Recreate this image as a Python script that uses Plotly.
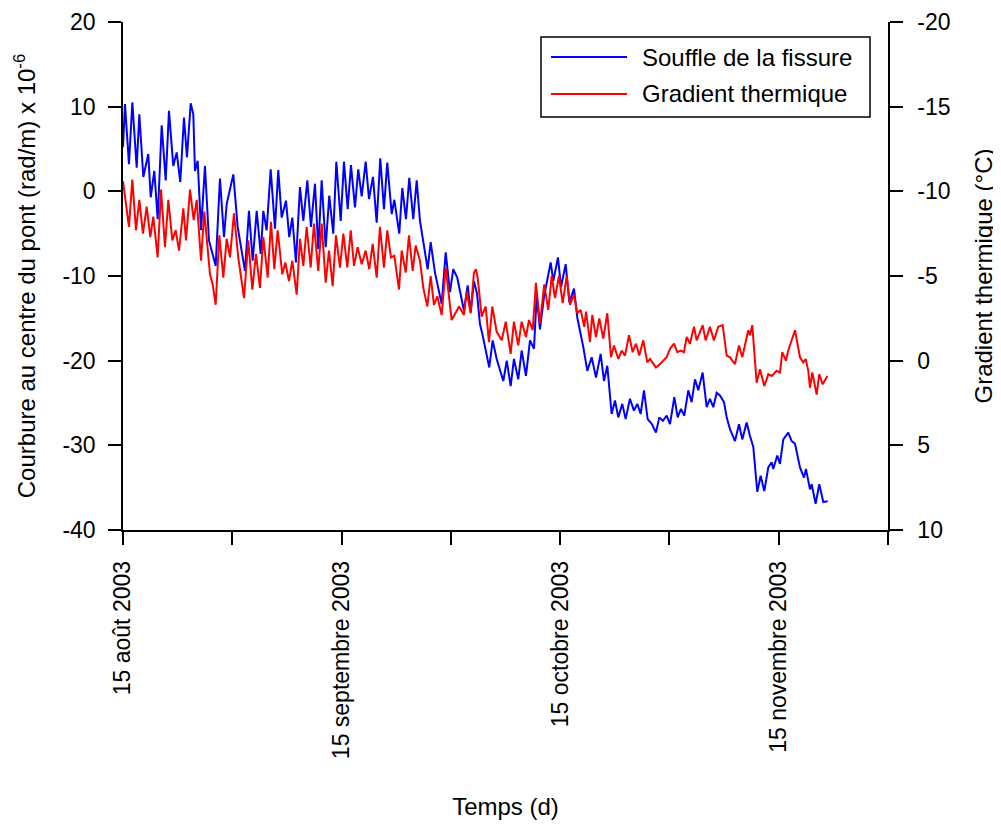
import plotly.graph_objects as go

# Days since 15 August 2003
blue_days = [0.0, 0.27, 0.82, 1.28, 1.88, 2.24, 2.79, 3.47, 3.80, 4.30, 4.76, 5.31, 5.86, 6.31, 6.90, 7.37, 7.86, 8.37, 8.78, 9.29,
             9.65, 9.88, 10.25, 10.71, 11.25, 11.80, 12.72, 13.31, 13.86, 14.23, 15.14, 15.74, 16.74, 17.29, 17.80, 18.35, 18.90, 19.26, 19.72, 20.27,
             20.86, 21.31, 21.78, 22.37, 22.82, 23.24, 23.74, 24.29, 24.75, 25.30, 25.80, 26.35, 26.80, 27.27, 27.82, 28.31, 28.86, 29.28, 29.88, 30.33,
             30.84, 31.29, 31.84, 32.29, 32.76, 33.31, 33.76, 34.31, 34.82, 35.31, 35.82, 36.27, 36.88, 37.24, 37.92, 38.33, 38.84, 39.29, 39.84, 40.31,
             40.76, 41.22, 41.82, 42.23, 42.82, 43.74, 44.29, 44.88, 45.33, 45.88, 46.80, 47.31, 47.72, 48.17, 48.59, 49.00, 49.31, 50.27, 50.74, 51.29,
             52.20, 52.67, 53.21, 53.66, 54.25, 54.72, 55.31, 55.86, 56.41, 56.78, 57.23, 57.78, 58.70, 59.06, 59.70, 60.12, 60.76, 61.26, 61.90, 62.35,
             63.18, 63.73, 64.33, 64.92, 65.56, 66.02, 66.47, 67.07, 67.53, 67.98, 68.53, 68.99, 69.58, 70.13, 70.59, 71.05, 71.51, 72.01, 72.60, 73.15,
             73.61, 74.11, 74.62, 75.08, 75.67, 76.13, 76.58, 77.04, 77.59, 78.05, 78.51, 78.96, 79.56, 80.11, 80.56, 81.02, 81.49, 81.94, 82.49, 82.86,
             83.31, 84.00, 84.55, 85.00, 85.60, 86.06, 86.51, 87.06, 87.52, 88.02, 88.57, 89.03, 89.25, 89.80, 90.17, 90.63, 91.31, 91.78, 92.23, 92.92,
             93.47, 93.74, 94.29, 94.52, 95.07, 95.57, 96.12, 96.72]
blue_vals = [5.2, 10.3, 3.2, 10.5, 2.8, 9.1, 1.7, 4.4, -0.7, 2.4, -3.3, 7.8, 1.3, 9.5, 3.0, 4.6, 1.1, 8.7, 4.0, 10.4,
             9.1, 2.4, 3.6, -4.6, 3.0, -5.8, -8.8, 1.5, -5.4, -1.5, 2.0, -4.2, -9.4, -2.3, -8.2, -2.3, -7.4, -2.3, -4.6, 2.6,
             -4.4, 2.5, -3.1, -1.1, -5.4, -3.1, -8.4, 0.5, -3.5, 1.3, -4.2, 0.9, -6.8, 1.3, -6.6, -0.5, -5.0, 3.5, -3.5, 3.5,
             -2.1, 3.1, -1.9, 2.6, -0.6, 3.5, -0.9, 1.7, -3.7, 3.9, -2.1, 3.4, -2.7, -1.0, -5.0, 0.4, -3.3, 1.6, -3.3, 1.3,
             -3.5, -5.8, -9.2, -6.0, -9.6, -13.3, -7.2, -11.9, -9.2, -10.2, -14.1, -11.1, -14.3, -10.6, -12.1, -15.7, -16.8, -20.8, -17.6, -19.8,
             -22.4, -20.0, -23.0, -19.8, -22.2, -18.8, -21.8, -17.6, -18.6, -12.3, -16.3, -12.5, -8.4, -10.6, -7.8, -11.3, -8.6, -13.1, -11.5, -14.9,
             -18.4, -21.2, -19.6, -22.0, -19.2, -22.4, -20.6, -26.3, -24.7, -26.7, -25.1, -26.9, -24.5, -25.9, -25.1, -26.3, -23.5, -26.9, -27.5, -28.5,
             -26.7, -27.1, -26.5, -27.5, -24.3, -26.7, -25.7, -26.5, -23.5, -24.9, -22.2, -23.5, -21.4, -25.5, -24.5, -25.5, -23.8, -24.1, -24.9, -26.7,
             -28.1, -29.5, -27.5, -29.3, -27.3, -28.9, -30.2, -35.5, -33.6, -35.4, -32.6, -32.0, -32.8, -31.2, -32.2, -29.3, -28.5, -29.5, -29.8, -32.6,
             -33.8, -32.8, -35.2, -34.6, -36.9, -34.6, -36.7, -36.6]

red_days = [0.0, 0.82, 1.28, 1.78, 2.24, 2.74, 3.25, 3.75, 4.16, 4.76, 5.22, 5.76, 6.22, 6.77, 7.23, 7.69, 8.28, 8.65, 9.20, 9.70,
            10.12, 10.71, 11.16, 11.94, 12.31, 12.72, 13.22, 13.77, 14.23, 14.69, 15.23, 15.82, 16.61, 17.20, 17.75, 18.25, 18.80, 19.26, 19.86, 20.31,
            20.77, 21.23, 21.86, 22.28, 22.78, 23.24, 23.84, 24.29, 24.75, 25.21, 25.76, 26.21, 26.80, 27.27, 27.82, 28.27, 28.78, 29.23, 29.78, 30.24,
            30.79, 31.26, 31.71, 32.21, 32.76, 33.31, 33.80, 34.27, 34.82, 35.27, 35.82, 36.27, 36.78, 37.24, 37.88, 38.25, 38.80, 39.25, 39.76, 40.17,
            40.76, 41.22, 41.77, 42.23, 42.68, 43.14, 43.74, 44.29, 45.11, 46.12, 46.80, 47.17, 47.72, 48.17, 48.45, 48.68, 49.23, 49.78, 50.23, 50.69,
            51.29, 51.98, 52.53, 53.21, 53.66, 54.25, 54.72, 55.31, 55.72, 56.23, 56.68, 57.23, 57.82, 58.37, 58.84, 59.29, 59.84, 60.35, 60.90, 61.35,
            61.90, 62.35, 62.82, 63.31, 63.55, 64.10, 64.41, 64.92, 65.37, 65.92, 66.47, 66.98, 67.39, 67.98, 68.45, 68.90, 69.45, 69.95, 70.41, 70.86,
            71.41, 71.96, 72.33, 73.15, 73.70, 74.62, 75.08, 75.63, 76.08, 76.54, 76.99, 77.37, 77.82, 78.37, 78.74, 79.56, 79.97, 80.56, 81.11, 81.70,
            82.31, 82.86, 83.31, 84.00, 84.55, 85.00, 85.82, 86.06, 86.37, 86.97, 87.43, 88.02, 88.57, 89.03, 89.72, 90.17, 90.49, 90.99, 91.31, 91.78,
            92.23, 92.92, 93.37, 93.70, 94.06, 94.29, 94.61, 95.21, 95.57, 96.03, 96.67]
red_vals = [-10.6, -7.9, -10.7, -7.7, -9.5, -7.5, -9.1, -7.3, -8.5, -6.1, -10.1, -6.7, -9.5, -7.1, -7.7, -6.5, -9.0, -7.1, -10.1, -8.3,
            -9.5, -5.9, -8.8, -5.1, -4.5, -3.3, -7.4, -4.9, -7.2, -6.1, -8.7, -6.1, -3.7, -7.1, -4.2, -6.3, -4.3, -7.3, -4.9, -8.2,
            -5.4, -7.7, -5.1, -5.8, -4.7, -5.9, -3.9, -7.2, -5.6, -7.9, -5.5, -8.1, -5.3, -8.1, -4.6, -6.5, -4.4, -7.4, -5.5, -7.5,
            -5.5, -7.7, -5.6, -6.7, -5.7, -6.5, -5.4, -6.9, -4.9, -7.9, -5.5, -7.7, -6.1, -6.2, -4.2, -6.5, -5.2, -7.4, -5.3, -6.8,
            -5.9, -4.3, -3.2, -5.0, -3.3, -3.8, -2.7, -5.5, -2.4, -3.2, -2.7, -4.1, -2.8, -5.2, -5.4, -4.9, -2.6, -3.2, -1.1, -3.2,
            -1.7, -1.2, -2.3, -0.4, -2.3, -0.9, -2.3, -1.4, -2.4, -1.8, -4.6, -2.2, -4.5, -3.0, -5.0, -3.7, -5.0, -3.4, -5.0, -3.3,
            -3.9, -2.8, -3.0, -2.0, -2.9, -1.1, -2.7, -1.4, -2.5, -1.3, -2.8, -0.2, -0.9, -0.1, -0.6, -0.3, -1.5, -0.5, -1.0, -0.3,
            -1.2, 0.1, -0.1, 0.4, 0.2, -0.2, -0.7, -1.0, -0.5, -0.6, -0.5, -1.4, -1.0, -2.0, -1.2, -2.1, -1.2, -2.0, -1.2, -2.0,
            -2.1, -0.3, -0.2, 0.2, -0.9, -0.2, -1.8, -1.5, -2.1, 1.3, 0.5, 1.5, 0.8, 0.9, 0.6, 0.7, -0.5, 0.0, -0.6, -1.2,
            -1.8, -0.2, 0.1, -0.1, 0.6, 1.6, 0.7, 2.0, 0.8, 1.4, 0.9]

x_tickvals = [0, 30, 60, 90]
x_ticktext = ["15 août 2003", "15 septembre 2003", "15 octobre 2003", "15 novembre 2003"]
x_minor_ticks = [15, 45, 75, 105]
left_ticks = [-40, -30, -20, -10, 0, 10, 20]
right_ticks = [-20, -15, -10, -5, 0, 5, 10]
series_names = ["Souffle de la fissure", "Gradient thermique"]
series_colors = ["#0000ff", "#ff0000"]

FONT = "Liberation Sans, Arial, sans-serif"

fig = go.Figure()
fig.add_trace(go.Scatter(x=blue_days, y=blue_vals, mode="lines", name=series_names[0],
                         line=dict(color=series_colors[0], width=2), yaxis="y", showlegend=False))
fig.add_trace(go.Scatter(x=red_days, y=red_vals, mode="lines", name=series_names[1],
                         line=dict(color=series_colors[1], width=2), yaxis="y2", showlegend=False))

axis_common = dict(showline=True, linecolor="black", linewidth=1.5, ticks="outside", ticklen=13,
                   tickwidth=1.5, tickcolor="black", showgrid=False, zeroline=False, automargin=False,
                   ticklabeloverflow="allow",
                   tickfont=dict(family=FONT, size=23, color="black"))

fig.update_layout(
    width=1001, height=826,
    # the page body adds an 8px offset, compensated here
    margin=dict(l=115, r=121, t=14, b=304),
    paper_bgcolor="white", plot_bgcolor="white",
    font=dict(family=FONT, size=23, color="black"),
    xaxis=dict(range=[0, 105], tickvals=x_tickvals, ticktext=x_ticktext, tickangle=-90,
               ticklabelstandoff=7,
               minor=dict(tickvals=x_minor_ticks, ticks="outside", ticklen=13, tickwidth=1.5,
                          tickcolor="black", showgrid=False),
               title=dict(text="Temps (d)", font=dict(size=24), standoff=40), **axis_common),
    yaxis=dict(range=[-40, 20], tickvals=left_ticks, ticktext=[str(v) for v in left_ticks],
               ticklabelstandoff=8,
               title=dict(text="Courbure au centre du pont (rad/m) x 10<sup>-6</sup>", font=dict(size=24), standoff=20),
               **axis_common),
    yaxis2=dict(range=[10, -20], tickvals=right_ticks, ticktext=[str(v) for v in right_ticks],
                overlaying="y", side="right", ticklabelstandoff=10,
                title=dict(text="Gradient thermique (°C)", font=dict(size=24), standoff=26),
                **axis_common),
    showlegend=False,
)

# Legend drawn as a framed box with line samples and labels (paper coordinates)
leg_x0, leg_x1, leg_y0, leg_y1 = 0.5464, 0.9765, 0.8130, 0.9705
sample_x0, sample_x1, text_x = 0.5595, 0.6588, 0.6758
row_y = [0.9311, 0.8583]
fig.add_shape(type="rect", xref="paper", yref="paper", x0=leg_x0, x1=leg_x1, y0=leg_y0, y1=leg_y1,
              line=dict(color="black", width=1.5), fillcolor="white", layer="above")
for name, color, yy in zip(series_names, series_colors, row_y):
    fig.add_shape(type="line", xref="paper", yref="paper", x0=sample_x0, x1=sample_x1, y0=yy, y1=yy,
                  line=dict(color=color, width=2), layer="above")
    fig.add_annotation(xref="paper", yref="paper", x=text_x, y=yy, text=name, showarrow=False,
                       xanchor="left", yanchor="middle", font=dict(family=FONT, size=24, color="black"))

fig.write_html("out.html")
